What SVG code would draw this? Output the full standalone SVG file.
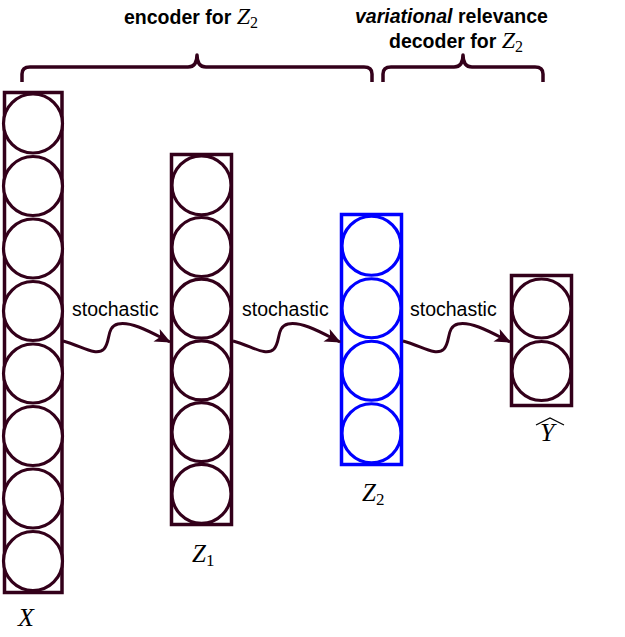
<svg xmlns="http://www.w3.org/2000/svg" width="625" height="637" viewBox="0 0 625 637">
<style>
.lay{fill:none;stroke:#33001a;stroke-width:3.5}
.lay.blue{stroke:#0000ff}
.nd{fill:#ffffff;stroke:#33001a;stroke-width:3.2}
.nd.blue{stroke:#0000ff}
.edge{fill:none;stroke:#33001a;stroke-width:3;marker-end:url(#arr)}
.brace{fill:none;stroke:#33001a;stroke-width:3.5;stroke-linecap:butt;stroke-linejoin:round}
.lbl{font-family:"Liberation Sans",Arial,sans-serif;font-size:19.5px;fill:#000}
.b{font-weight:bold}
.m{font-family:"Liberation Serif","Times New Roman",serif;font-style:italic;fill:#000}
.sub{font-family:"Liberation Serif","Times New Roman",serif;font-style:normal;fill:#000}
</style>
<defs>
<marker id="arr" markerUnits="userSpaceOnUse" markerWidth="16" markerHeight="14" viewBox="0 0 16 14" refX="15" refY="7" orient="auto">
<path d="M0,0 L16,7 L0,14 L4,7 Z" fill="#33001a"/>
</marker>
</defs>

<g id="braces">
<path class="brace" d="M22,82 L22,74 Q22,67 30,67 L188,67 Q197,67 197,55 Q197,67 206,67 L364,67 Q372,67 372,74 L372,82"/>
<path class="brace" d="M383,82 L383,74 Q383,67 391,67 L454,67 Q463,67 463,55 Q463,67 472,67 L535,67 Q543,67 543,74 L543,82"/>
</g>

<g id="titles">
<text class="lbl" x="124" y="24"><tspan class="b">encoder for </tspan><tspan class="m" font-size="24">Z</tspan><tspan class="sub" font-size="16" dy="4">2</tspan></text>
<text class="lbl b" x="355" y="23"><tspan font-style="italic">variational</tspan> relevance</text>
<text class="lbl" x="389" y="48"><tspan class="b">decoder for </tspan><tspan class="m" font-size="24">Z</tspan><tspan class="sub" font-size="16" dy="4">2</tspan></text>
</g>

<g id="layer-X">
<rect class="lay" x="4.5" y="92.5" width="57.5" height="500"/>
<circle class="nd" cx="33" cy="123.5" r="29.5"/>
<circle class="nd" cx="33" cy="186" r="29.5"/>
<circle class="nd" cx="33" cy="248.5" r="29.5"/>
<circle class="nd" cx="33" cy="311" r="29.5"/>
<circle class="nd" cx="33" cy="373.5" r="29.5"/>
<circle class="nd" cx="33" cy="436" r="29.5"/>
<circle class="nd" cx="33" cy="498.5" r="29.5"/>
<circle class="nd" cx="33" cy="561" r="29.5"/>
<text class="m" x="18" y="626" font-size="26">X</text>
</g>

<g id="layer-Z1">
<rect class="lay" x="171.5" y="154.5" width="60" height="370"/>
<circle class="nd" cx="201.5" cy="185.3" r="29.5"/>
<circle class="nd" cx="201.5" cy="247" r="29.5"/>
<circle class="nd" cx="201.5" cy="308.7" r="29.5"/>
<circle class="nd" cx="201.5" cy="370.4" r="29.5"/>
<circle class="nd" cx="201.5" cy="432.1" r="29.5"/>
<circle class="nd" cx="201.5" cy="493.8" r="29.5"/>
<text x="192" y="562"><tspan class="m" font-size="25">Z</tspan><tspan class="sub" font-size="17" dy="4">1</tspan></text>
</g>

<g id="layer-Z2">
<rect class="lay blue" x="341.5" y="214.5" width="60" height="250"/>
<circle class="nd blue" cx="371.5" cy="245.75" r="29.5"/>
<circle class="nd blue" cx="371.5" cy="308.25" r="29.5"/>
<circle class="nd blue" cx="371.5" cy="370.75" r="29.5"/>
<circle class="nd blue" cx="371.5" cy="433.25" r="29.5"/>
<text x="362" y="501"><tspan class="m" font-size="25">Z</tspan><tspan class="sub" font-size="17" dy="4">2</tspan></text>
</g>

<g id="layer-Yhat">
<rect class="lay" x="511.5" y="275.5" width="60" height="130"/>
<circle class="nd" cx="541.5" cy="308.5" r="29.5"/>
<circle class="nd" cx="541.5" cy="371" r="29.5"/>
<text class="m" x="540" y="441" font-size="26">Y</text>
<path d="M536,425 L550,418 L564,425" fill="none" stroke="#000" stroke-width="1.3"/>
</g>

<g id="connectors">
<path class="edge" d="M63,341 C82,346 96,357 104,349 C111,341 106,327 118,324 C132,321 152,333 170,342"/>
<path class="edge" d="M233,341 C252,346 266,357 274,349 C281,341 276,327 288,324 C302,321 322,333 340,342"/>
<path class="edge" d="M403,341 C422,346 436,357 444,349 C451,341 446,327 458,324 C472,321 492,333 510,342"/>
<text class="lbl" x="72" y="316">stochastic</text>
<text class="lbl" x="242" y="316">stochastic</text>
<text class="lbl" x="410" y="316">stochastic</text>
</g>
</svg>
